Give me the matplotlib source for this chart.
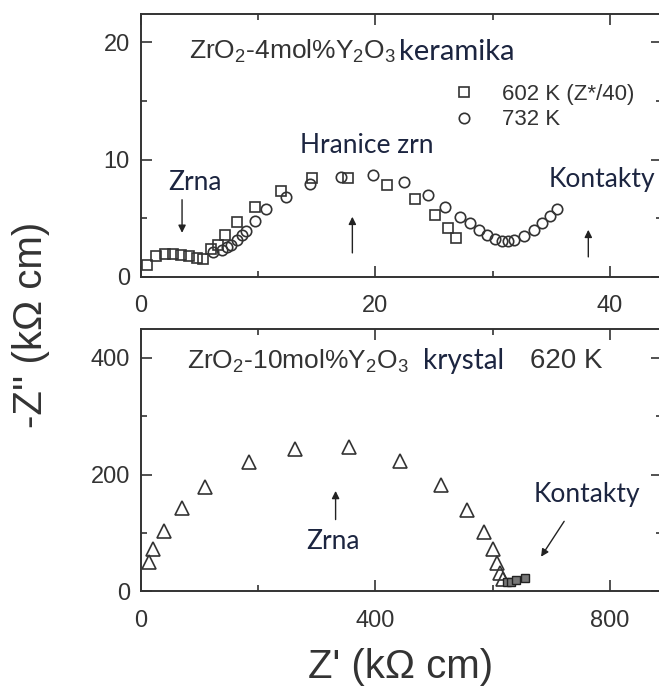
import numpy as np
import matplotlib
matplotlib.use("Agg")
import matplotlib.pyplot as plt
from matplotlib.ticker import MultipleLocator
from matplotlib.lines import Line2D

plt.rcParams['font.family'] = ['Liberation Sans', 'DejaVu Sans']
plt.rcParams['mathtext.fontset'] = 'custom'
plt.rcParams['mathtext.rm'] = 'Liberation Sans'
plt.rcParams['mathtext.default'] = 'regular'

# ZrO2-4mol%Y2O3 ceramic, 602 K (Z*/40)
z1_602 = [0.5, 1.3, 2.05, 2.75, 3.45, 4.1, 4.75, 5.3, 6.0, 6.6, 7.2, 8.2, 9.7, 11.9,
          14.6, 17.7, 20.95, 23.4, 25.1, 26.2, 26.9]
z2_602 = [1.0, 1.75, 2.0, 2.0, 1.9, 1.75, 1.6, 1.55, 2.35, 2.75, 3.6, 4.7, 6.0, 7.3,
          8.4, 8.4, 7.8, 6.6, 5.3, 4.15, 3.3]
# 732 K
z1_732 = [6.1, 6.9, 7.3, 7.7, 8.15, 8.6, 8.95, 9.7, 10.7, 12.4, 14.4, 17.1, 19.8, 22.4,
          24.5, 25.9, 27.2, 28.05, 28.8, 29.5, 30.2, 30.8, 31.3, 31.8, 32.7, 33.5,
          34.25, 34.9, 35.5]
z2_732 = [2.15, 2.3, 2.55, 2.75, 3.15, 3.6, 3.95, 4.75, 5.75, 6.85, 7.95, 8.55, 8.7, 8.05,
          7.0, 6.0, 5.1, 4.6, 4.0, 3.6, 3.25, 3.1, 3.1, 3.15, 3.45, 4.0, 4.6, 5.2, 5.75]

# ZrO2-10mol%Y2O3 crystal, 620 K
z1_620 = [14, 21, 40, 70, 110, 185, 262, 355, 442, 512, 556, 585, 600, 607, 612, 618]
z2_620 = [51, 73, 103, 142, 178, 222, 244, 247, 224, 182, 139, 101, 72, 49, 31, 21]
# electrode (contacts) points
z1_cont = [625, 632, 640, 655]
z2_cont = [17, 17, 20, 23]

ink = '#333333'
note = '#1c2540'
note_font = ['Lato', 'DejaVu Sans']

fig = plt.figure(figsize=(6.59, 6.88), dpi=100)
ax1 = fig.add_axes([0.2140, 0.5974, 0.7906, 0.3823])
ax2 = fig.add_axes([0.2140, 0.1403, 0.7906, 0.3815])

mk = dict(ls='none', mfc='none', mec=ink, mew=1.2)
ax1.plot(z1_602, z2_602, marker='s', ms=7.5, **mk)
ax1.plot(z1_732, z2_732, marker='o', ms=7.5, **mk)
ax2.plot(z1_620, z2_620, marker='^', ms=10, **mk)
ax2.plot(z1_cont, z2_cont, marker='s', ms=5.5, ls='none', mfc='#777777', mec='#222222', mew=1.0)

ax1.set_xlim(0, 44.45)
ax1.set_ylim(0, 22.4)
ax2.set_xlim(0, 889)
ax2.set_ylim(0, 449)

ax1.xaxis.set_major_locator(MultipleLocator(20))
ax1.xaxis.set_minor_locator(MultipleLocator(10))
ax1.yaxis.set_major_locator(MultipleLocator(10))
ax1.yaxis.set_minor_locator(MultipleLocator(5))
ax2.xaxis.set_major_locator(MultipleLocator(400))
ax2.xaxis.set_minor_locator(MultipleLocator(200))
ax2.yaxis.set_major_locator(MultipleLocator(200))
ax2.yaxis.set_minor_locator(MultipleLocator(100))

for ax in (ax1, ax2):
    for s in ax.spines.values():
        s.set_linewidth(1.4)
        s.set_color(ink)
    ax.tick_params(which='both', direction='in', top=True, right=True, color=ink,
                   width=1.2, labelsize=17, labelcolor=ink)
    ax.tick_params(which='major', length=8)
    ax.tick_params(which='minor', length=4)
    ax.tick_params(axis='x', pad=13)
    ax.tick_params(axis='y', pad=8)

# top panel texts
ax1.text(4.09, 19.2, 'ZrO$_2$-4mol%Y$_2$O$_3$', fontsize=19, color=ink, va='center')
ax1.text(22.05, 19.2, 'keramika', fontsize=21, color=note, va='center', family=note_font)
ax1.legend(handles=[Line2D([], [], marker='s', ms=7.5, **mk),
                    Line2D([], [], marker='o', ms=7.5, **mk)],
           labels=['602 K (Z*/40)', '732 K'], loc='upper left',
           bbox_to_anchor=(0.56, 0.81), frameon=False, fontsize=16,
           handletextpad=1.2, labelspacing=0.2, handlelength=1.0, labelcolor=ink)
ax1.text(19.3, 11.2, 'Hranice zrn', fontsize=19, color=note, ha='center', va='center',
         family=note_font)
ax1.text(4.63, 8.03, 'Zrna', fontsize=19, color=note, ha='center', va='center',
         family=note_font)
ax1.text(34.8, 8.3, 'Kontakty', fontsize=19, color=note, va='center', family=note_font)
arr = dict(arrowstyle='-|>', color='#222222', lw=1.0, mutation_scale=11, shrinkA=0, shrinkB=0)
ax1.annotate('', xy=(3.5, 3.76), xytext=(3.5, 6.58), arrowprops=arr)
ax1.annotate('', xy=(18.03, 5.13), xytext=(18.03, 2.05), arrowprops=arr)
ax1.annotate('', xy=(38.16, 4.02), xytext=(38.16, 1.71), arrowprops=arr)

# bottom panel texts
ax2.text(78.6, 394, 'ZrO$_2$-10mol%Y$_2$O$_3$', fontsize=19, color=ink, va='center')
ax2.text(481, 394, 'krystal', fontsize=20, color=note, va='center', family=note_font)
ax2.text(664, 394, '620 K', fontsize=20, color=ink, va='center')
ax2.text(327.6, 86, 'Zrna', fontsize=19, color=note, ha='center', va='center',
         family=note_font)
ax2.annotate('', xy=(332, 172), xytext=(332, 123), arrowprops=arr)
ax2.text(670, 166, 'Kontakty', fontsize=19, color=note, va='center', family=note_font)
ax2.annotate('', xy=(682.6, 59.5), xytext=(722, 120), arrowprops=arr)

fig.text(0.0475, 1 - 325 / 688, "-Z'' (k\u03a9 cm)", rotation=90, fontsize=29,
         color=ink, ha='center', va='center')
fig.text(401 / 659, 1 - 667 / 688, "Z' (k\u03a9 cm)", fontsize=29, color=ink,
         ha='center', va='center')

fig.savefig('out.png', dpi=100)
